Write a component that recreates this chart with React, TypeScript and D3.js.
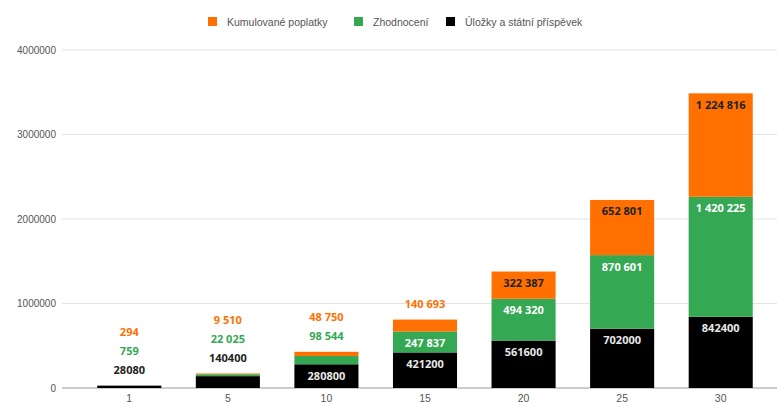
import React from "react";
import * as d3 from "d3";

const years = ["1", "5", "10", "15", "20", "25", "30"];
const deposits = [28080, 140400, 280800, 421200, 561600, 702000, 842400];
const growth = [759, 22025, 98544, 247837, 494320, 870601, 1420225];
const fees = [294, 9510, 48750, 140693, 322387, 652801, 1224816];
const yTicks = [0, 1000000, 2000000, 3000000, 4000000];

const series = [
  { key: "deposits", name: "Úložky a státní příspěvek", color: "#000000", inside: "#e8e8e8", spaced: false },
  { key: "growth", name: "Zhodnocení", color: "#34a853", inside: "#ffffff", spaced: true },
  { key: "fees", name: "Kumulované poplatky", color: "#ff7000", inside: "#222222", spaced: true },
];
const legendOrder = ["fees", "growth", "deposits"];
const legendX: Record<string, number> = { fees: 208, growth: 354, deposits: 446 };

const width = 777;
const height = 403;

const spaced = (v: number) => d3.format(",")(v).replace(/,/g, " ");

export default function App() {
  const rows = years.map((y, i) => ({
    year: y,
    deposits: deposits[i],
    growth: growth[i],
    fees: fees[i],
  }));
  const stack = d3.stack<any>().keys(series.map((s) => s.key))(rows);

  const x = d3.scaleBand().domain(years).range([80, 770]).paddingInner(0.35).paddingOuter(0.175);
  const y = d3.scaleLinear().domain([0, 4000000]).range([388, 50]);

  const labels: any[] = [];
  years.forEach((yr, i) => {
    const top = y(stack[stack.length - 1][i][1]);
    let above = 0;
    series.forEach((s, si) => {
      const seg = stack[si][i];
      const h = y(seg[0]) - y(seg[1]);
      const v = seg[1] - seg[0];
      const text = s.spaced ? spaced(v) : String(v);
      if (h >= 20) {
        labels.push({ x: x(yr)! + x.bandwidth() / 2, y: y(seg[1]) + 11, text, fill: s.inside });
      } else {
        labels.push({ x: x(yr)! + x.bandwidth() / 2, y: top - 16 - above * 19, text, fill: s.color === "#000000" ? "#222" : s.color });
        above++;
      }
    });
  });

  return (
    <svg
      width={width}
      height={height}
      style={{ position: "absolute", left: 0, top: 0, background: "#fff" }}
    >
      {/* legend */}
      {legendOrder.map((k) => {
        const s = series.find((d) => d.key === k)!;
        return (
          <g key={k} transform={`translate(${legendX[k]},17)`}>
            <rect width={9} height={9} fill={s.color} />
            <text x={19} y={4.5} dominantBaseline="central" fontSize={10.5} fill="#555" fontFamily="Liberation Sans, Arial, sans-serif">
              {s.name}
            </text>
          </g>
        );
      })}

      {/* grid */}
      {yTicks.map((t) => (
        <g key={t}>
          <line x1={62} x2={width} y1={y(t)} y2={y(t)} stroke={t === 0 ? "#9a9a9a" : "#e3e3e3"} strokeWidth={1} />
          <text x={56} y={y(t)} textAnchor="end" dominantBaseline="central" fontSize={10} fill="#555" fontFamily="Liberation Sans, Arial, sans-serif">
            {t}
          </text>
        </g>
      ))}

      {/* bars */}
      {stack.map((layer, si) => (
        <g key={layer.key} fill={series[si].color}>
          {layer.map((d, i) => (
            <rect
              key={i}
              x={x(years[i])}
              y={y(d[1])}
              width={x.bandwidth()}
              height={Math.max(0, y(d[0]) - y(d[1]))}
            />
          ))}
        </g>
      ))}

      {/* x ticks */}
      {years.map((yr) => (
        <text key={yr} x={x(yr)! + x.bandwidth() / 2} y={398} textAnchor="middle" dominantBaseline="central" fontSize={10.5} fill="#555" fontFamily="Liberation Sans, Arial, sans-serif">
          {yr}
        </text>
      ))}

      {/* data labels */}
      {labels.map((l, i) => (
        <text key={i} x={l.x} y={l.y} textAnchor="middle" dominantBaseline="central" fontSize={11} fontWeight="bold" fill={l.fill} fontFamily="Open Sans, Roboto, sans-serif">
          {l.text}
        </text>
      ))}
    </svg>
  );
}
